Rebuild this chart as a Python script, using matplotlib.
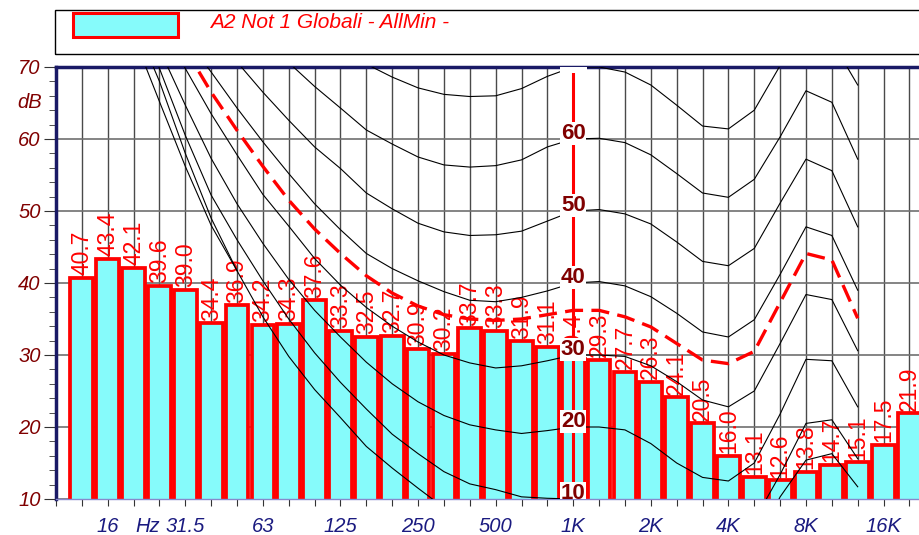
import numpy as np
import matplotlib
matplotlib.use('Agg')
import matplotlib.pyplot as plt
from matplotlib.patches import Rectangle

plt.rcParams['font.family'] = ['Liberation Sans', 'DejaVu Sans']
plt.rcParams['lines.scale_dashes'] = False

# bande di terzo d'ottava, indice 0 = 10 Hz ... 33 = 20 kHz
bands = ['10', '12.5', '16', '20', '25', '31.5', '40', '50', '63', '80', '100',
         '125', '160', '200', '250', '315', '400', '500', '630', '800', '1K',
         '1.25K', '1.6K', '2K', '2.5K', '3.15K', '4K', '5K', '6.3K', '8K',
         '10K', '12.5K', '16K', '20K']
lab_pos = [2, 5, 8, 11, 14, 17, 20, 23, 26, 29, 32]
lab_txt = ['16', '31.5', '63', '125', '250', '500', '1K', '2K', '4K', '8K', '16K']

# livelli misurati (12.5 Hz .. 20 kHz)
levels = [40.7, 43.4, 42.1, 39.6, 39.0, 34.4, 36.9, 34.2, 34.3, 37.6, 33.3,
          32.5, 32.7, 30.9, 30.2, 33.7, 33.3, 31.9, 31.1, 29.4, 29.3, 27.7,
          26.3, 24.1, 20.5, 16.0, 13.1, 12.6, 13.8, 14.7, 15.1, 17.5, 21.9]
first_bar = 1

# curve isofoniche (10 Hz .. 12.5 kHz)
cx = [93, 88, 82.5, 74.3, 65.2, 56.2, 48.0, 41.7]
c0 = [95, 90, 84.5, 76.5, 68.0, 58.0, 49.0, 41.7, 35.3, 29.8, 25.2, 21.3,
      17.3, 14.3, 11.5, 8.8, 7.2, 6.0, 5.0, 4.4, 4.0, 3.6, 3.0, 1.5, -1.5,
      -4.0, -5.0, 3.0, 10.3, 15.4, 16.3, 11.7]
c10 = [96, 91, 85.5, 78.5, 69.8, 60.5, 52.2, 46.0, 40.3, 35.0, 30.3, 26.2,
       22.5, 19.0, 16.3, 13.8, 12.1, 11.3, 10.3, 10.1, 10.0, 9.8, 9.0, 7.2,
       4.5, 2.5, 2.0, 7.0, 13.4, 20.5, 21.0, 15.6]
c20 = [97, 91, 86, 80, 72.5, 64.7, 57.3, 51.0, 45.5, 40.5, 36.2, 32.5, 29.0,
       26.0, 23.5, 21.6, 20.3, 19.6, 19.1, 19.5, 20.0, 20.0, 19.6, 17.7, 15.0,
       13.0, 12.5, 15.0, 21.8, 29.4, 29.2, 22.8]
c30 = [98, 92, 87, 82, 76.3, 69.8, 63.5, 57.8, 52.3, 47.9, 43.4, 39.7, 36.6,
       34.0, 31.8, 30.0, 28.9, 28.2, 28.5, 29.2, 30.0, 30.0, 29.8, 28.5, 26.3,
       23.75, 22.8, 25.0, 31.6, 38.4, 37.7, 30.6]
c40 = [100, 94, 88, 83, 78.5, 74.0, 69.3, 64.3, 59.6, 55.2, 51.0, 47.4, 44.1,
       42.0, 40.3, 38.8, 37.6, 37.4, 38.0, 38.9, 40.0, 40.2, 39.6, 38.1, 35.8,
       33.2, 32.5, 34.9, 41.2, 47.8, 46.6, 39.0]
c50 = [105, 99, 93, 88, 84.5, 80.5, 75.8, 70.7, 66.5, 62.6, 58.9, 55.9, 52.5,
       50.3, 48.3, 47.1, 46.6, 46.7, 47.2, 48.6, 50.0, 50.2, 49.6, 48.2, 45.7,
       43.0, 42.4, 44.8, 51.1, 57.2, 55.6, 47.8]
c60 = [110, 104, 98, 93, 88, 84, 80.5, 77.3, 74.0, 70.6, 67.3, 64.3, 61.25,
       59.3, 57.5, 56.4, 56.1, 56.3, 57.1, 58.9, 60.0, 60.1, 59.5, 57.8, 55.2,
       52.5, 51.9, 54.4, 60.3, 66.7, 65.1, 57.2]
c70 = [114, 110, 106, 102, 98, 94, 90, 86, 82.5, 79, 75.5, 72.6, 70.4, 68.6,
       67.1, 66.2, 65.9, 66.0, 67.0, 68.7, 70.0, 70.0, 69.3, 67.5, 64.7, 61.8,
       61.4, 64.0, 70.2, 76.0, 73.6, 67.5]
contours = [cx, c0, c10, c20, c30, c40, c50, c60, c70]
phon_1k = [10, 20, 30, 40, 50, 60, 70]

# curva limite tratteggiata (da 31.5 Hz a 12.5 kHz)
lim_start = 5
limit = [72.5, 66.5, 61.2, 56.2, 51.5, 47.5, 44.1, 41.0, 38.6, 36.8, 35.6,
         35.0, 34.8, 35.0, 35.6, 36.2, 36.2, 35.3, 33.9, 31.6, 29.3, 28.8,
         30.5, 37.3, 44.1, 43.2, 35.1]

fig = plt.figure(figsize=(9.19, 5.35), dpi=100)
ax = fig.add_axes([56/919, 36/535, 863/919, 432/535])
ax.set_xlim(0, 33.37)
ax.set_ylim(10, 70)
ax.set_axisbelow(True)

xb = np.arange(first_bar, first_bar + len(levels))
ax.bar(xb, levels, width=0.88, bottom=0, color='#86fbfb', edgecolor='red',
       linewidth=2.7, zorder=1)

for i, v in zip(xb, levels):
    ax.annotate(f'{v:.1f}', xy=(i, v), xytext=(0, 2), textcoords='offset points',
                rotation=90, ha='center', va='bottom', color='red', fontsize=16.5,
                zorder=3)

for c in contours:
    ax.plot(np.arange(len(c)), c, color='black', lw=0.8, zorder=4)

ax.plot(np.arange(lim_start, lim_start + len(limit)), limit, color='red', lw=2.4,
        ls=(0, (13, 6)), zorder=5)

ax.axvline(20, color='red', lw=2.2, zorder=6)
for p in phon_1k:
    ax.text(20, p, str(p), ha='center', va='baseline', color='#800000',
            fontsize=16, fontweight='bold', zorder=7, clip_on=True,
            bbox=dict(fc='white', ec='none', pad=0.6))

# assi
ax.set_xticks(range(len(bands)))
ax.set_xticklabels([lab_txt[lab_pos.index(k)] if k in lab_pos else '' for k in range(len(bands))])
ax.set_yticks(range(10, 71, 10))
ax.set_yticks(range(10, 71, 2), minor=True)
ax.grid(True, which='major', axis='x', color='#4a4a4a', lw=1.0)
ax.grid(True, which='major', axis='y', color='#707070', lw=1.2)
ax.tick_params(axis='x', direction='out', length=5, color='#333333', pad=8,
               labelsize=14.5, labelcolor='#1a1a80')
ax.tick_params(axis='y', which='major', direction='out', length=9, color='#333333',
               pad=2, labelsize=14.5, labelcolor='#800000')
ax.tick_params(axis='y', which='minor', direction='out', length=5, color='#333333')
for t in ax.get_xticklabels() + ax.get_yticklabels():
    t.set_fontstyle('italic')

ax.annotate('dB', xy=(0, 65), xycoords=('axes fraction', 'data'), xytext=(-10, 0),
            textcoords='offset points', ha='right', va='center', color='#800000',
            fontsize=14.5, style='italic')
ax.annotate('Hz', xy=(3.55, 0), xycoords=('data', 'axes fraction'), xytext=(0, -13),
            textcoords='offset points', ha='center', va='top', color='#1a1a80',
            fontsize=14.5, style='italic')

for s in ['top', 'left']:
    ax.spines[s].set_color('#1a1a66')
    ax.spines[s].set_linewidth(2.5)
ax.spines['bottom'].set_color('#8888cc')
ax.spines['bottom'].set_linewidth(1)
ax.spines['right'].set_visible(False)

# legenda
fig.add_artist(Rectangle((55/919, 481/535), 870/919, 44/535, transform=fig.transFigure,
                         fill=False, ec='black', lw=1))
fig.add_artist(Rectangle((73/919, 498/535), 105/919, 24/535, transform=fig.transFigure,
                         fc='#86fbfb', ec='red', lw=2.2))
fig.text(210/919, 512.5/535, 'A2 Not 1 Globali - AllMin -', color='red', style='italic',
         fontsize=15, ha='left', va='center')

fig.savefig('out.png', dpi=100)
